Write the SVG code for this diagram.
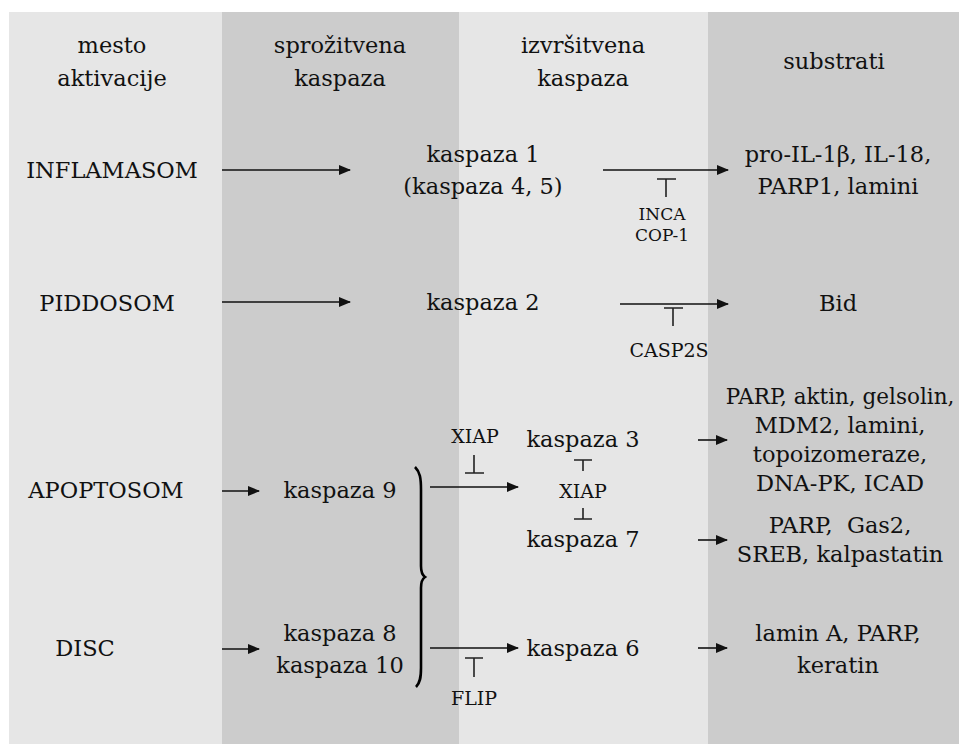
<svg xmlns="http://www.w3.org/2000/svg" width="959" height="744" viewBox="0 0 959 744">
<style>
text{font-family:"DejaVu Serif","Liberation Serif",serif;font-size:22.5px;fill:#111;text-anchor:middle;}
.s{font-size:19px;}
.xs{font-size:17px;}
.ln{stroke:#111;stroke-width:1.6;fill:none;}
.inh{stroke:#222;stroke-width:1.6;fill:none;}
</style>
<defs>
<marker id="ah" markerWidth="12" markerHeight="10" refX="11" refY="5" orient="auto" markerUnits="userSpaceOnUse">
<path d="M0,0 L12,5 L0,10 Z" fill="#111"/>
</marker>
</defs>
<rect x="0" y="0" width="959" height="744" fill="#ffffff"/>
<g id="columns">
<rect x="9" y="12" width="213" height="732" fill="#e6e6e6"/>
<rect x="222" y="12" width="237" height="732" fill="#cccccc"/>
<rect x="459" y="12" width="249" height="732" fill="#e6e6e6"/>
<rect x="708" y="12" width="251" height="732" fill="#cccccc"/>
</g>
<g id="headers">
<text x="112" y="53">mesto</text>
<text x="112" y="86">aktivacije</text>
<text x="340" y="53">sprožitvena</text>
<text x="340" y="86">kaspaza</text>
<text x="583" y="53">izvršitvena</text>
<text x="583" y="86">kaspaza</text>
<text x="834" y="69">substrati</text>
</g>
<g id="inflamasom"><text x="112" y="178">INFLAMASOM</text></g>
<g id="piddosom"><text x="107" y="311">PIDDOSOM</text></g>
<g id="apoptosom"><text x="106" y="498">APOPTOSOM</text></g>
<g id="disc"><text x="85" y="656">DISC</text></g>
<g id="kaspaza1"><text x="483" y="162">kaspaza 1</text><text x="483" y="194">(kaspaza 4, 5)</text></g>
<g id="kaspaza2"><text x="483" y="310">kaspaza 2</text></g>
<g id="kaspaza9"><text x="340" y="498">kaspaza 9</text></g>
<g id="kaspaza8_10"><text x="340" y="641">kaspaza 8</text><text x="340" y="673">kaspaza 10</text></g>
<g id="kaspaza3"><text x="583" y="447">kaspaza 3</text></g>
<g id="kaspaza7"><text x="583" y="547">kaspaza 7</text></g>
<g id="kaspaza6"><text x="583" y="656">kaspaza 6</text></g>
<g id="sub1"><text x="838" y="162">pro-IL-1β, IL-18,</text><text x="838" y="194">PARP1, lamini</text></g>
<g id="sub2"><text x="838" y="311">Bid</text></g>
<g id="sub3"><text x="840" y="404" style="font-size:21.5px">PARP, aktin, gelsolin,</text><text x="840" y="433">MDM2, lamini,</text><text x="840" y="462">topoizomeraze,</text><text x="840" y="491">DNA-PK, ICAD</text></g>
<g id="sub7"><text x="840" y="533" xml:space="preserve" style="white-space:pre">PARP,  Gas2,</text><text x="840" y="562">SREB, kalpastatin</text></g>
<g id="sub6"><text x="838" y="641">lamin A, PARP,</text><text x="838" y="673">keratin</text></g>
<g id="inhibitors">
<text class="xs" x="662" y="220">INCA</text>
<text class="xs" x="662" y="241">COP-1</text>
<text class="s" x="669" y="357">CASP2S</text>
<text class="s" x="475" y="443">XIAP</text>
<text class="s" x="583" y="498">XIAP</text>
<text class="s" x="474" y="705">FLIP</text>
</g>
<g id="connectors">
<line class="ln" x1="222" y1="170" x2="350" y2="170" marker-end="url(#ah)"/>
<line class="ln" x1="603" y1="170" x2="728" y2="170" marker-end="url(#ah)"/>
<line class="ln" x1="222" y1="302" x2="350" y2="302" marker-end="url(#ah)"/>
<line class="ln" x1="620" y1="304" x2="728" y2="304" marker-end="url(#ah)"/>
<line class="ln" x1="222" y1="491" x2="259" y2="491" marker-end="url(#ah)"/>
<line class="ln" x1="430" y1="487" x2="518" y2="487" marker-end="url(#ah)"/>
<line class="ln" x1="698" y1="440" x2="727" y2="440" marker-end="url(#ah)"/>
<line class="ln" x1="698" y1="540" x2="727" y2="540" marker-end="url(#ah)"/>
<line class="ln" x1="222" y1="649" x2="259" y2="649" marker-end="url(#ah)"/>
<line class="ln" x1="430" y1="648" x2="518" y2="648" marker-end="url(#ah)"/>
<line class="ln" x1="698" y1="648" x2="727" y2="648" marker-end="url(#ah)"/>
<path class="inh" d="M657,179 H676 M666,179 V197"/>
<path class="inh" d="M664,308 H683 M673,308 V326"/>
<path class="inh" d="M465,473 H484 M474,473 V455"/>
<path class="inh" d="M574,460 H592 M583,460 V471"/>
<path class="inh" d="M574,519 H592 M583,519 V508"/>
<path class="inh" d="M465,658 H483 M474,658 V677"/>
<path d="M415,467 C420,472 421,478 421,490 L421,566 C421,572 422,575 425,577 C422,579 421,582 421,588 L421,668 C421,678 420,683 416,687" stroke="#000" stroke-width="2.6" fill="none"/>
</g>
</svg>
